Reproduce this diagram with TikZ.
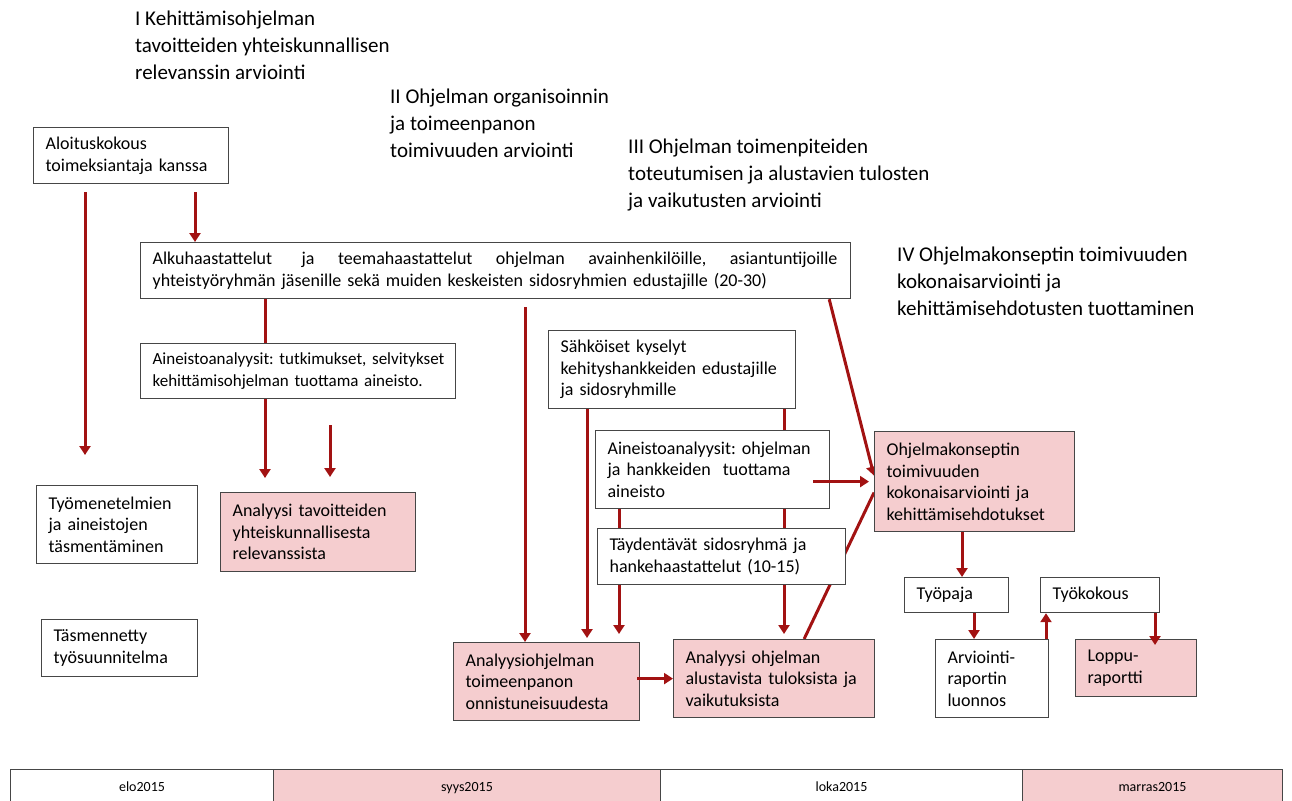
\documentclass[tikz,border=0pt]{standalone}
\usepackage{fontspec}
\setmainfont{Carlito}
\frenchspacing
\usetikzlibrary{positioning,calc,arrows.meta}
\pgfdeclarelayer{bg}
\pgfsetlayers{bg,main}
\definecolor{arrowred}{RGB}{162,18,18}
\definecolor{rosa}{RGB}{245,205,207}
\definecolor{edge}{RGB}{70,70,70}
\tikzstyle{block} = [rectangle,draw=edge,line width=1.2pt,fill=white,anchor=north west,align=left,inner xsep=12pt,inner ysep=3pt,font=\fontsize{18}{21.5}\selectfont,execute at begin node={\hyphenpenalty=10000}]
\tikzstyle{pinkblock} = [block,fill=rosa]
\tikzstyle{head} = [anchor=north west,align=left,inner sep=0pt,font=\fontsize{21}{27}\selectfont]
\tikzstyle{month} = [rectangle,draw=edge,line width=1pt,anchor=north west,minimum height=36pt,inner sep=0pt,text height=10pt,text depth=3pt,font=\fontsize{14}{16}\selectfont]
\tikzstyle{line} = [-{Triangle[length=9pt,width=11pt]},draw=arrowred,line width=3pt]
\tikzstyle{plain} = [draw=arrowred,line width=3pt]

\begin{document}
\begin{tikzpicture}[x=1pt,y=-1pt]
    \useasboundingbox (0,0) rectangle (1292,800);
    \node[head] (h1) at (135,11) {I Kehittämisohjelman\\tavoitteiden yhteiskunnallisen\\relevanssin arviointi};
    \node[head] (h2) at (390,89) {II Ohjelman organisoinnin\\ja toimeenpanon\\toimivuuden arviointi};
    \node[head] (h3) at (628,139) {III Ohjelman toimenpiteiden\\toteutumisen ja alustavien tulosten\\ja vaikutusten arviointi};
    \node[head] (h4) at (897,247) {IV Ohjelmakonseptin toimivuuden\\kokonaisarviointi ja\\kehittämisehdotusten tuottaminen};

    \node[block,minimum width=195pt,minimum height=56pt,text width=171pt] (start) at (33,127) {Aloituskokous\\toimeksiantaja kanssa};
    \node[block,minimum width=710pt,minimum height=56pt,text width=686pt] (alku) at (140,242) {\hbox to 685pt{Alkuhaastattelut\ \hfill ja\hfill teemahaastattelut\hfill ohjelman\hfill avainhenkilöille,\hfill asiantuntijoille}\\yhteistyöryhmän jäsenille sekä muiden keskeisten sidosryhmien edustajille (20-30)};
    \node[block,minimum width=315pt,minimum height=55pt,text width=291pt,font=\fontsize{17}{21.5}\selectfont] (aineisto1) at (140,343) {\mbox{Aineistoanalyysit: tutkimukset, selvitykset}\\kehittämisohjelman tuottama aineisto.};
    \node[block,minimum width=161pt,minimum height=78pt,text width=137pt] (tyomen) at (36,485) {Työmenetelmien\\ja aineistojen\\täsmentäminen};
    \node[block,minimum width=156pt,minimum height=57pt,text width=132pt] (tasm) at (41,619) {Täsmennetty\\työsuunnitelma};
    \node[pinkblock,minimum width=195pt,minimum height=79pt,text width=171pt] (anatav) at (220,492) {Analyysi tavoitteiden\\yhteiskunnallisesta\\relevanssista};
    \node[block,minimum width=247pt,minimum height=78pt,text width=223pt] (sahko) at (548,330) {Sähköiset kyselyt\\kehityshankkeiden edustajille\\ja sidosryhmille};
    \node[block,minimum width=234pt,minimum height=78pt,text width=210pt] (aineisto2) at (595,430) {Aineistoanalyysit: ohjelman\\ja hankkeiden\ \ tuottama\\aineisto};
    \node[block,minimum width=248pt,minimum height=56pt,text width=224pt] (taydent) at (597,528) {Täydentävät sidosryhmä ja\\hankehaastattelut (10-15)};
    \node[pinkblock,minimum width=200pt,minimum height=100pt,text width=176pt] (konsepti) at (874,431) {Ohjelmakonseptin\\toimivuuden\\kokonaisarviointi ja\\kehittämisehdotukset};
    \node[block,minimum width=104pt,minimum height=35pt,text width=80pt] (tyopaja) at (904,577) {Työpaja};
    \node[block,minimum width=119pt,minimum height=35pt,text width=95pt] (tyokokous) at (1040,577) {Työkokous};
    \node[block,minimum width=113pt,minimum height=78pt,text width=89pt] (luonnos) at (935,639) {Arviointi-\\raportin\\luonnos};
    \node[pinkblock,minimum width=121pt,minimum height=57pt,text width=97pt] (loppu) at (1075,639) {Loppu-\\raportti};
    \node[pinkblock,minimum width=186pt,minimum height=78pt,text width=162pt] (anatoim) at (453,642) {Analyysiohjelman\\toimeenpanon\\onnistuneisuudesta};
    \node[pinkblock,minimum width=201pt,minimum height=78pt,text width=177pt] (anatulos) at (673,639) {Analyysi ohjelman\\alustavista tuloksista ja\\vaikutuksista};

    \node[month,minimum width=263pt] (elo) at (10,769) {elo2015};
    \node[month,minimum width=387pt,fill=rosa] (syys) at (273,769) {syys2015};
    \node[month,minimum width=362pt] (loka) at (660,769) {loka2015};
    \node[month,minimum width=260pt,fill=rosa] (marras) at (1022,769) {marras2015};

    \begin{pgfonlayer}{bg}
        \draw[line,shorten <=8pt,shorten >=30pt] (start.south -| 85,0) -- (tyomen.north -| 85,0);
        \draw[line,shorten <=8pt] (start.south -| 195,0) -- (alku.north -| 195,0);
        \draw[line,shorten >=14pt] (alku.south -| 265,0) -- (anatav.north -| 265,0);
        \draw[line,shorten <=26pt,shorten >=15pt] (aineisto1.south -| 330,0) -- (anatav.north -| 330,0);
        \draw[line,shorten <=8pt] (alku.south -| 525,0) -- (anatoim.north -| 525,0);
        \draw[line,shorten >=4pt] (sahko.south -| 587,0) -- (anatoim.north -| 587,0);
        \draw[line,shorten >=8pt] (aineisto2.south -| 619,0) -- (anatoim.north -| 619,0);
        \draw[line,shorten >=5pt] (sahko.south -| 784,0) -- (anatulos.north -| 784,0);
        \draw[line] ([xshift=-22pt]alku.south east) -- ([yshift=6pt]konsepti.west);
        \draw[plain] ([xshift=30pt]anatulos.north) -- ([yshift=-11pt]konsepti.west);
    \end{pgfonlayer}
    \draw[line,shorten >=5pt] ([xshift=-17pt]aineisto2.east |- konsepti.west) -- (konsepti.west);
    \draw[line,shorten <=-3pt] (anatoim.east |- anatulos.west) -- (anatulos.west);
    \draw[line] (konsepti.south -| 962,0) -- (tyopaja.north -| 962,0);
    \draw[line] (tyopaja.south -| 974,0) -- (luonnos.north -| 974,0);
    \draw[line] (luonnos.north -| 1046,0) -- (tyokokous.south -| 1046,0);
    \draw[line,shorten >=-6pt] (tyokokous.south -| 1155,0) -- (loppu.north -| 1155,0);
\end{tikzpicture}
\end{document}
